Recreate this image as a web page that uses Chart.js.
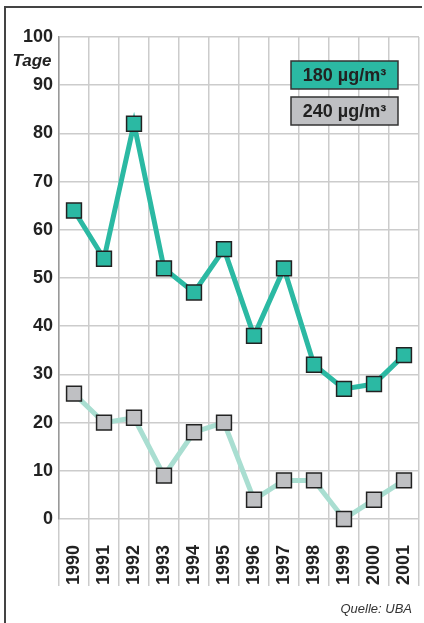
<!DOCTYPE html>
<html><head><meta charset="utf-8">
<script src="https://cdn.jsdelivr.net/npm/chart.js@4/dist/chart.umd.min.js"></script>
<style>html,body{margin:0;padding:0;background:#fff;}canvas{display:block}</style>
</head><body>
<canvas id="c" width="424" height="623"></canvas>
<script>
const years = ['1990','1991','1992','1993','1994','1995','1996','1997','1998','1999','2000','2001'];
const values180 = [64, 54, 82, 52, 47, 56, 38, 52, 32, 27, 28, 34];
const values240 = [26, 20, 21, 9, 18, 20, 4, 8, 8, 0, 4, 8];
const seriesLabels = ['180 µg/m³', '240 µg/m³'];
const yMin = 0, yMax = 100, yStep = 10;
const yAxisTitle = 'Tage';
const sourceNote = 'Quelle: UBA';

const FONT = '"Liberation Sans", Arial, sans-serif';
const TEAL = '#2bb9a3', TEAL_LIGHT = '#a9ded1', GRAY = '#bfc0c3', DARK = '#222';

const decor = {
  id: 'decor',
  afterDraw(chart) {
    const ctx = chart.ctx;
    ctx.save();
    ctx.strokeStyle = '#444';
    ctx.lineWidth = 2;
    ctx.beginPath();
    ctx.moveTo(5, 623); ctx.lineTo(5, 7); ctx.lineTo(422, 7);
    ctx.stroke();
    ctx.fillStyle = DARK;
    ctx.font = 'italic bold 17px ' + FONT;
    ctx.textAlign = 'center'; ctx.textBaseline = 'middle';
    ctx.fillText(yAxisTitle, 32, 61);
    ctx.font = 'italic 13px ' + FONT;
    ctx.fillStyle = '#333';
    ctx.textAlign = 'right';
    ctx.fillText(sourceNote, 412, 609);
    const fills = [TEAL, GRAY];
    const tops = [61, 97];
    ctx.font = 'bold 18px ' + FONT;
    ctx.textAlign = 'center';
    seriesLabels.forEach((lab, i) => {
      ctx.fillStyle = fills[i];
      ctx.fillRect(291, tops[i], 107, 28);
      ctx.strokeStyle = '#333'; ctx.lineWidth = 1.5;
      ctx.strokeRect(291, tops[i], 107, 28);
      ctx.fillStyle = DARK;
      ctx.fillText(lab, 344.5, tops[i] + 15);
    });
    ctx.restore();
  }
};

new Chart(document.getElementById('c'), {
  type: 'line',
  data: {
    labels: years,
    datasets: [
      { label: seriesLabels[0], data: values180, borderColor: TEAL, borderWidth: 5, clip: false,
        pointStyle: 'rect', pointRadius: 10.5, pointBackgroundColor: TEAL,
        pointBorderColor: DARK, pointBorderWidth: 1.5, tension: 0 },
      { label: seriesLabels[1], data: values240, borderColor: TEAL_LIGHT, borderWidth: 5, clip: false,
        pointStyle: 'rect', pointRadius: 10.5, pointBackgroundColor: GRAY,
        pointBorderColor: DARK, pointBorderWidth: 1.5, tension: 0 }
    ]
  },
  options: {
    responsive: false,
    animation: false,
    layout: { autoPadding: false, padding: { top: 37, left: 0, right: 5, bottom: 37 } },
    plugins: { legend: { display: false }, tooltip: { enabled: false } },
    scales: {
      x: {
        offset: true,
        grid: { offset: true, color: '#cccccc', lineWidth: 1.5, tickLength: 67, tickColor: '#cccccc' },
        border: { display: false },
        ticks: { autoSkip: false, minRotation: 90, maxRotation: 90, padding: -41,
                 color: DARK, font: { family: FONT, size: 18, weight: 'bold' } },
        afterFit(s) { s.height = 67; s.paddingLeft = 0; s.paddingRight = 0; }
      },
      y: {
        min: yMin, max: yMax,
        grid: { color: '#cccccc', lineWidth: 1.5, drawTicks: false },
        border: { display: true, color: '#999', width: 1.5 },
        ticks: { stepSize: yStep, padding: 6, color: DARK, font: { family: FONT, size: 18, weight: 'bold' } },
        afterFit(s) { s.width = 59; }
      }
    }
  },
  plugins: [decor]
});
</script>
</body></html>
